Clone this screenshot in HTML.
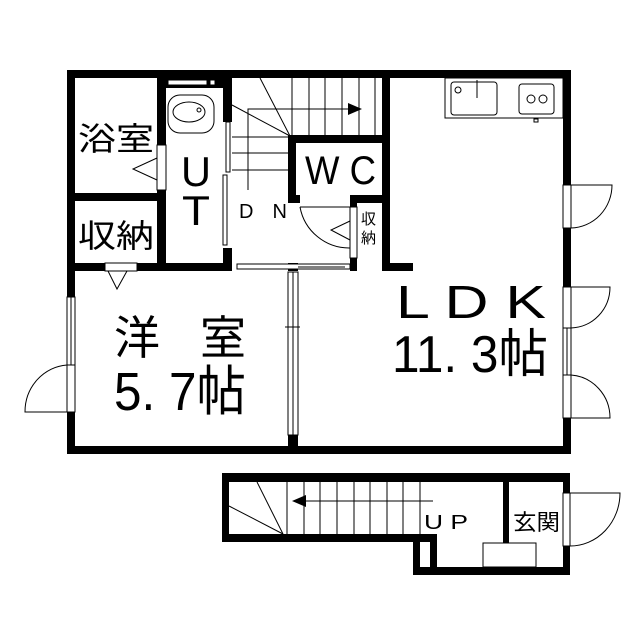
<!DOCTYPE html>
<html><head><meta charset="utf-8"><style>
html,body{margin:0;padding:0;background:#fff;width:640px;height:640px;overflow:hidden}
svg{display:block}
text{font-family:"Liberation Sans","Noto Sans CJK JP",sans-serif;fill:#000}
</style></head><body>
<svg width="640" height="640" viewBox="0 0 640 640" xmlns="http://www.w3.org/2000/svg">
<g fill="#000">
<rect x="67" y="70" width="504" height="8"/>
<rect x="67" y="70" width="8" height="227"/>
<rect x="67" y="365" width="8" height="89"/>
<rect x="67" y="446" width="504" height="8"/>
<rect x="563" y="70" width="8" height="115"/>
<rect x="563" y="228" width="8" height="59"/>
<rect x="563" y="418" width="8" height="36"/>
<rect x="157" y="70" width="9" height="75"/>
<rect x="157" y="190" width="9" height="81"/>
<rect x="67" y="193" width="99" height="8"/>
<rect x="67" y="263" width="38" height="8"/>
<rect x="137" y="263" width="95" height="8"/>
<rect x="223" y="70" width="9" height="52"/>
<rect x="223" y="248" width="9" height="23"/>
<rect x="382" y="70" width="8" height="201"/>
<rect x="382" y="263" width="31" height="8"/>
<rect x="288" y="135" width="102" height="8"/>
<rect x="288" y="135" width="8" height="68"/>
<rect x="288" y="195" width="12" height="8"/>
<rect x="350" y="195" width="40" height="8"/>
<rect x="350" y="195" width="7" height="12"/>
<rect x="350" y="258" width="7" height="13"/>
<rect x="288" y="435" width="10" height="15"/>
<rect x="288" y="263" width="10" height="8"/>
<rect x="166" y="78" width="57" height="10"/>
<rect x="222" y="473" width="348" height="9"/>
<rect x="222" y="473" width="7" height="69"/>
<rect x="222" y="534" width="215" height="8"/>
<rect x="413" y="534" width="7" height="41"/>
<rect x="430" y="534" width="7" height="41"/>
<rect x="413" y="567" width="157" height="8"/>
<rect x="563" y="473" width="7" height="20"/>
<rect x="563" y="546" width="7" height="29"/>
<rect x="503" y="473" width="6" height="70"/>
</g>
<g fill="none" stroke="#000" stroke-width="1">
<rect x="168" y="80" width="39" height="5" fill="#fff"/>
<rect x="210" y="80" width="5" height="5" fill="#fff"/>
<rect x="168" y="95" width="46" height="38" rx="12"/>
<ellipse cx="189" cy="112" rx="16" ry="10"/>
<circle cx="199" cy="110" r="2"/>
<rect x="157" y="145" width="9" height="45" fill="#fff"/>
<polyline points="157,158 133,169 157,180"/>
<rect x="226" y="122" width="4" height="50" fill="#fff"/>
<rect x="223" y="175" width="4" height="70" fill="#fff"/>
<line x1="292" y1="78" x2="292" y2="135"/>
<line x1="309" y1="78" x2="309" y2="135"/>
<line x1="325" y1="78" x2="325" y2="135"/>
<line x1="342" y1="78" x2="342" y2="135"/>
<line x1="359" y1="78" x2="359" y2="135"/>
<line x1="375" y1="78" x2="375" y2="135"/>
<line x1="260" y1="78" x2="290" y2="136"/>
<line x1="232" y1="105" x2="290" y2="136"/>
<line x1="232" y1="153" x2="288" y2="153"/>
<line x1="232" y1="170" x2="288" y2="170"/>
<line x1="232" y1="137" x2="288" y2="137"/>
<polyline points="248,190 248,109 352,109"/>
<line x1="300" y1="207" x2="350" y2="207"/>
<path d="M300,207 A50,50 0 0 0 350,248"/>
<line x1="350" y1="248" x2="350" y2="207"/>
<rect x="350" y="207" width="7" height="51" fill="#fff"/>
<polyline points="350,221 331,230 350,240"/>
<rect x="105" y="263" width="32" height="8" fill="#fff"/>
<polyline points="108,271 117,289 127,271"/>
<rect x="237" y="264" width="113" height="5" fill="#fff"/>
<line x1="298" y1="267" x2="345" y2="267"/>
<rect x="288" y="272" width="10" height="163" fill="#fff"/>
<line x1="293" y1="272" x2="293" y2="435"/>
<line x1="285" y1="327" x2="300" y2="327"/>
<rect x="67" y="297" width="8" height="68" fill="#fff"/>
<line x1="71" y1="297" x2="71" y2="365"/>
<rect x="67" y="365" width="8" height="47" fill="#fff"/>
<path d="M67,365 A45,47 0 0 0 25,412 L67,412"/>
<rect x="445" y="78" width="118" height="40"/>
<rect x="451" y="82" width="46" height="33" rx="3"/>
<circle cx="458" cy="90" r="3"/>
<line x1="477" y1="80" x2="477" y2="98"/>
<rect x="519" y="84" width="35" height="30" rx="3"/>
<circle cx="531" cy="99" r="4"/>
<circle cx="543" cy="99" r="4"/>
<rect x="534" y="119" width="4" height="3"/>
<rect x="563" y="185" width="8" height="43" fill="#fff"/>
<path d="M571,185 L612,185 A42,43 0 0 1 571,228"/>
<rect x="563" y="287" width="8" height="41" fill="#fff"/>
<path d="M571,287 L610,287 A40,41 0 0 1 571,328"/>
<rect x="563" y="328" width="8" height="47" fill="#fff"/>
<line x1="567" y1="328" x2="567" y2="375"/>
<rect x="563" y="375" width="8" height="43" fill="#fff"/>
<path d="M571,375 A42,43 0 0 1 610,418 L571,418"/>
<line x1="257" y1="482" x2="283" y2="534"/>
<line x1="229" y1="506" x2="283" y2="534"/>
<line x1="287" y1="482" x2="287" y2="534"/>
<line x1="304" y1="482" x2="304" y2="534"/>
<line x1="320" y1="482" x2="320" y2="534"/>
<line x1="337" y1="482" x2="337" y2="534"/>
<line x1="354" y1="482" x2="354" y2="534"/>
<line x1="370" y1="482" x2="370" y2="534"/>
<line x1="387" y1="482" x2="387" y2="534"/>
<line x1="403" y1="482" x2="403" y2="534"/>
<line x1="420" y1="482" x2="420" y2="534"/>
<line x1="300" y1="501" x2="433" y2="501"/>
<rect x="483" y="543" width="53" height="24"/>
<rect x="563" y="493" width="7" height="53" fill="#fff"/>
<path d="M570,493 L620,493 A50,53 0 0 1 570,546"/>
</g>
<polygon points="362,109 348,103 348,115" fill="#000"/>
<polygon points="292,501 306,495 306,507" fill="#000"/>
<text x="78" y="150" font-size="32" textLength="76" lengthAdjust="spacingAndGlyphs">浴室</text>
<text x="78" y="247" font-size="32" textLength="76" lengthAdjust="spacingAndGlyphs">収納</text>
<text x="181" y="186" font-size="42" textLength="30" lengthAdjust="spacingAndGlyphs">U</text>
<text x="182" y="225" font-size="42" textLength="28" lengthAdjust="spacingAndGlyphs">T</text>
<text x="239" y="218" font-size="20" textLength="48" lengthAdjust="spacing">D N</text>
<text x="305" y="184" font-size="40" textLength="71" lengthAdjust="spacingAndGlyphs">W C</text>
<text x="361" y="224" font-size="15">収</text>
<text x="361" y="243" font-size="15">納</text>
<text x="114" y="354" font-size="46" textLength="132" lengthAdjust="spacing">洋　室</text>
<text x="114" y="410" font-size="54" textLength="132" lengthAdjust="spacingAndGlyphs">5. 7帖</text>
<text x="396" y="318" font-size="46" textLength="150" lengthAdjust="spacingAndGlyphs">L D K</text>
<text x="392" y="372" font-size="52" textLength="156" lengthAdjust="spacingAndGlyphs">11. 3帖</text>
<text x="424" y="529" font-size="20" textLength="44" lengthAdjust="spacingAndGlyphs">U P</text>
<text x="513" y="530" font-size="22" textLength="47" lengthAdjust="spacingAndGlyphs">玄関</text>
</svg>
</body></html>
